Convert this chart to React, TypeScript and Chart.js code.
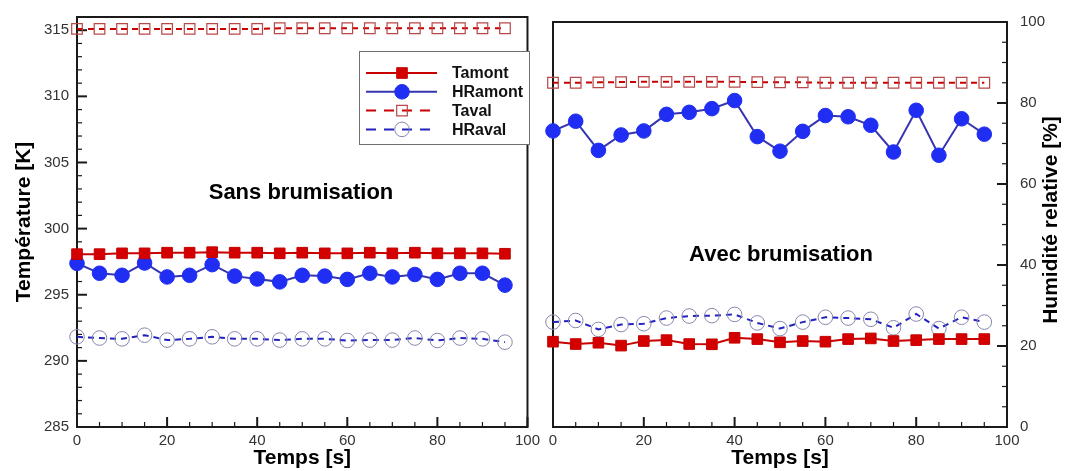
import React, { useEffect, useRef } from 'react';
import { Chart, registerables } from 'chart.js';

Chart.register(...registerables);

const FONT = '"Liberation Sans", Arial, Helvetica, sans-serif';

// ---------------- data ----------------
const time = [0, 5, 10, 15, 20, 25, 30, 35, 40, 45, 50, 55, 60, 65, 70, 75, 80, 85, 90, 95];

const xTickValues = [0, 20, 40, 60, 80, 100];
const tempTickValues = [285, 290, 295, 300, 305, 310, 315];
const humTickValues = [0, 20, 40, 60, 80, 100];

const seriesLabels = ['Tamont', 'HRamont', 'Taval', 'HRaval'];

// Sans brumisation (temperatures in K, humidities in %)
const sansTamont = [298.07, 298.07, 298.13, 298.13, 298.18, 298.18, 298.22, 298.18, 298.18, 298.13, 298.18, 298.13, 298.13, 298.18, 298.13, 298.18, 298.13, 298.13, 298.13, 298.1];
const sansHRamont = [39.9, 37.5, 37.0, 40.0, 36.6, 37.0, 39.6, 36.8, 36.1, 35.4, 37.0, 36.8, 36.0, 37.5, 36.6, 37.2, 36.0, 37.5, 37.5, 34.6];
const sansTaval = [315.1, 315.1, 315.1, 315.1, 315.1, 315.1, 315.1, 315.1, 315.1, 315.15, 315.15, 315.15, 315.15, 315.15, 315.15, 315.15, 315.15, 315.15, 315.15, 315.15];
const sansHRaval = [22.0, 21.7, 21.5, 22.4, 21.2, 21.5, 22.0, 21.5, 21.5, 21.2, 21.5, 21.5, 21.1, 21.2, 21.2, 21.7, 21.1, 21.7, 21.5, 20.7];

// Avec brumisation
const avecTamont = [291.53, 291.35, 291.45, 291.23, 291.58, 291.65, 291.35, 291.33, 291.83, 291.73, 291.48, 291.58, 291.53, 291.73, 291.78, 291.58, 291.65, 291.73, 291.73, 291.73];
const avecHRamont = [73.1, 75.5, 68.3, 72.1, 73.1, 77.2, 77.7, 78.6, 80.6, 71.7, 68.1, 73.0, 76.9, 76.6, 74.5, 67.9, 78.2, 67.1, 76.1, 72.3];
const avecTaval = [311.35, 311.35, 311.38, 311.4, 311.42, 311.42, 311.42, 311.42, 311.42, 311.4, 311.38, 311.38, 311.35, 311.35, 311.35, 311.35, 311.35, 311.35, 311.35, 311.35];
const avecHRaval = [25.9, 26.3, 24.1, 25.3, 25.5, 26.9, 27.4, 27.5, 27.8, 25.7, 24.3, 25.9, 27.1, 26.9, 26.6, 24.5, 27.9, 24.3, 27.1, 25.9];

// ---------------- helpers ----------------
const pts = (arr: number[]) => time.map((t, i) => ({ x: t, y: arr[i] }));

function buildDatasets(tam: number[], hram: number[], tav: number[], hrav: number[], tAxis: string, hAxis: string) {
  return [
    {
      label: seriesLabels[0], data: pts(tam), yAxisID: tAxis,
      borderColor: '#c80000', borderWidth: 2, pointStyle: 'rect', pointRadius: 7.5,
      pointBackgroundColor: '#d40000', pointBorderColor: '#c40000', pointBorderWidth: 1, clip: false,
    },
    {
      label: seriesLabels[1], data: pts(hram), yAxisID: hAxis,
      borderColor: '#3535b0', borderWidth: 2, pointStyle: 'circle', pointRadius: 7.3,
      pointBackgroundColor: '#1f2ef2', pointBorderColor: '#1f2ef2', pointBorderWidth: 1, clip: false,
    },
    {
      label: seriesLabels[2], data: pts(tav), yAxisID: tAxis,
      borderColor: '#c80000', borderWidth: 2, borderDash: [6, 5], pointStyle: 'rect', pointRadius: 7.5,
      pointBackgroundColor: 'rgba(0,0,0,0)', pointBorderColor: '#b84848', pointBorderWidth: 1.2, clip: false,
    },
    {
      label: seriesLabels[3], data: pts(hrav), yAxisID: hAxis,
      borderColor: '#2222c0', borderWidth: 2, borderDash: [6, 5], pointStyle: 'circle', pointRadius: 7.3,
      pointBackgroundColor: 'rgba(0,0,0,0)', pointBorderColor: '#8686ad', pointBorderWidth: 1, clip: false,
    },
  ];
}

const setTicks = (values: number[]) => (scale: any) => {
  scale.ticks = values.map((v) => ({ value: v }));
};

function frameTicksPlugin(yId: string, side: 'left' | 'right', yMinor: number) {
  return {
    id: 'frameTicks',
    beforeDatasetsDraw(chart: any) {
      const { ctx, chartArea: a } = chart;
      const xs = chart.scales.x;
      const ys = chart.scales[yId];
      ctx.save();
      ctx.strokeStyle = '#1a1a1a';
      for (let v = xs.min; v <= xs.max + 1e-9; v += 5) {
        const px = xs.getPixelForValue(v);
        const major = xs.ticks.some((t: any) => Math.abs(t.value - v) < 1e-9);
        ctx.lineWidth = major ? 2 : 1.2;
        ctx.beginPath();
        ctx.moveTo(px, a.bottom);
        ctx.lineTo(px, a.bottom - (major ? 10 : 5));
        ctx.stroke();
      }
      for (let v = ys.min; v <= ys.max + 1e-9; v += yMinor) {
        const py = ys.getPixelForValue(v);
        const major = ys.ticks.some((t: any) => Math.abs(t.value - v) < 1e-9);
        const len = major ? 10 : 5;
        ctx.lineWidth = major ? 2 : 1.2;
        ctx.beginPath();
        if (side === 'left') {
          ctx.moveTo(a.left, py);
          ctx.lineTo(a.left + len, py);
        } else {
          ctx.moveTo(a.right, py);
          ctx.lineTo(a.right - len, py);
        }
        ctx.stroke();
      }
      ctx.lineWidth = 2;
      ctx.strokeRect(a.left, a.top, a.right - a.left, a.bottom - a.top);
      ctx.restore();
    },
  };
}

function textPlugin(id: string, text: string, x: number, y: number, size: number, rotate = 0) {
  return {
    id,
    afterDatasetsDraw(chart: any) {
      const { ctx } = chart;
      ctx.save();
      ctx.translate(x, y);
      if (rotate) ctx.rotate(rotate);
      ctx.font = `bold ${size}px ${FONT}`;
      ctx.fillStyle = '#000';
      ctx.textAlign = 'center';
      ctx.textBaseline = 'middle';
      ctx.fillText(text, 0, 0);
      ctx.restore();
    },
  };
}

const legendPlugin = {
  id: 'customLegend',
  afterDatasetsDraw(chart: any) {
    const { ctx } = chart;
    const bx = 359, by = 51, bw = 170, bh = 93;
    ctx.save();
    ctx.fillStyle = '#fff';
    ctx.fillRect(bx, by, bw, bh);
    ctx.strokeStyle = '#707070';
    ctx.lineWidth = 1;
    ctx.strokeRect(bx + 0.5, by + 0.5, bw, bh);
    chart.data.datasets.forEach((ds: any, i: number) => {
      const y = 73 + i * 18.8;
      ctx.strokeStyle = ds.borderColor;
      ctx.lineWidth = 2;
      ctx.setLineDash(ds.borderDash ? [10, 8] : []);
      ctx.beginPath();
      ctx.moveTo(366, y);
      ctx.lineTo(437, y);
      ctx.stroke();
      ctx.setLineDash([]);
      const mx = 402;
      ctx.lineWidth = ds.pointBorderWidth;
      ctx.strokeStyle = ds.pointBorderColor;
      ctx.fillStyle = ds.pointBackgroundColor;
      ctx.beginPath();
      if (ds.pointStyle === 'rect') {
        const s = Math.SQRT1_2 * ds.pointRadius;
        ctx.rect(mx - s, y - s, 2 * s, 2 * s);
      } else {
        ctx.arc(mx, y, ds.pointRadius, 0, Math.PI * 2);
      }
      ctx.fill();
      ctx.stroke();
      ctx.font = `bold 16px ${FONT}`;
      ctx.fillStyle = '#111';
      ctx.textAlign = 'left';
      ctx.textBaseline = 'middle';
      ctx.fillText(ds.label, 452, y + 1);
    });
    ctx.restore();
  },
};

const tickFont = { family: FONT, size: 15 };
const titleFont = { family: FONT, size: 21, weight: 'bold' as const };

function xScale() {
  return {
    type: 'linear', position: 'bottom', min: 0, max: 100,
    afterBuildTicks: setTicks(xTickValues),
    afterFit: (s: any) => { s.height = 44; },
    grid: { display: false, drawTicks: false },
    border: { display: false },
    ticks: { font: tickFont, color: '#333', padding: 5, maxRotation: 0, autoSkip: false },
    title: { display: true, text: 'Temps [s]', font: titleFont, color: '#000', padding: { top: 0, bottom: 0 } },
  };
}

export default function App() {
  const leftRef = useRef<HTMLCanvasElement>(null);
  const rightRef = useRef<HTMLCanvasElement>(null);

  useEffect(() => {
    const left = new Chart(leftRef.current as HTMLCanvasElement, {
      type: 'line',
      data: { datasets: buildDatasets(sansTamont, sansHRamont, sansTaval, sansHRaval, 'y', 'yH') as any },
      options: {
        responsive: false,
        animation: false,
        events: [],
        layout: { padding: { left: 0, top: 14, right: 16, bottom: 0 } },
        plugins: { legend: { display: false }, tooltip: { enabled: false } },
        scales: {
          x: xScale() as any,
          y: {
            type: 'linear', position: 'left', min: 285, max: 316,
            afterBuildTicks: setTicks(tempTickValues),
            afterFit: (s: any) => { s.width = 77; },
            grid: { display: false, drawTicks: false },
            border: { display: false },
            ticks: { font: tickFont, color: '#333', padding: 8 },
            title: { display: true, text: 'Température [K]', font: titleFont, color: '#000', padding: { top: 12, bottom: 0 } },
          } as any,
          yH: { type: 'linear', display: false, min: 0, max: 100 } as any,
        },
      },
      plugins: [frameTicksPlugin('y', 'left', 1), legendPlugin, textPlugin('t1', 'Sans brumisation', 301, 193, 22)],
    });

    const right = new Chart(rightRef.current as HTMLCanvasElement, {
      type: 'line',
      data: { datasets: buildDatasets(avecTamont, avecHRamont, avecTaval, avecHRaval, 'yT', 'y') as any },
      options: {
        responsive: false,
        animation: false,
        events: [],
        layout: { padding: { left: 13, top: 14, right: 0, bottom: 0 } },
        plugins: { legend: { display: false }, tooltip: { enabled: false } },
        scales: {
          x: xScale() as any,
          y: {
            type: 'linear', position: 'right', min: 0, max: 100,
            afterBuildTicks: setTicks(humTickValues),
            afterFit: (s: any) => { s.width = 58; },
            grid: { display: false, drawTicks: false },
            border: { display: false },
            ticks: { font: tickFont, color: '#333', padding: 13 },
            title: { display: false },
          } as any,
          yT: { type: 'linear', display: false, min: 285, max: 316 } as any,
        },
      },
      plugins: [
        frameTicksPlugin('y', 'right', 5),
        textPlugin('t2', 'Avec brumisation', 241, 255, 22),
        textPlugin('t3', 'Humidité relative [%]', 511, 220, 21, -Math.PI / 2),
      ],
    });

    return () => {
      left.destroy();
      right.destroy();
    };
  }, []);

  return (
    <div style={{ position: 'absolute', left: 0, top: 0, width: 1065, height: 471, background: '#fff', overflow: 'hidden' }}>
      <canvas ref={leftRef} width={545} height={471} style={{ position: 'absolute', left: 0, top: 0, width: 545, height: 471 }} />
      <canvas ref={rightRef} width={525} height={471} style={{ position: 'absolute', left: 540, top: 0, width: 525, height: 471 }} />
    </div>
  );
}
